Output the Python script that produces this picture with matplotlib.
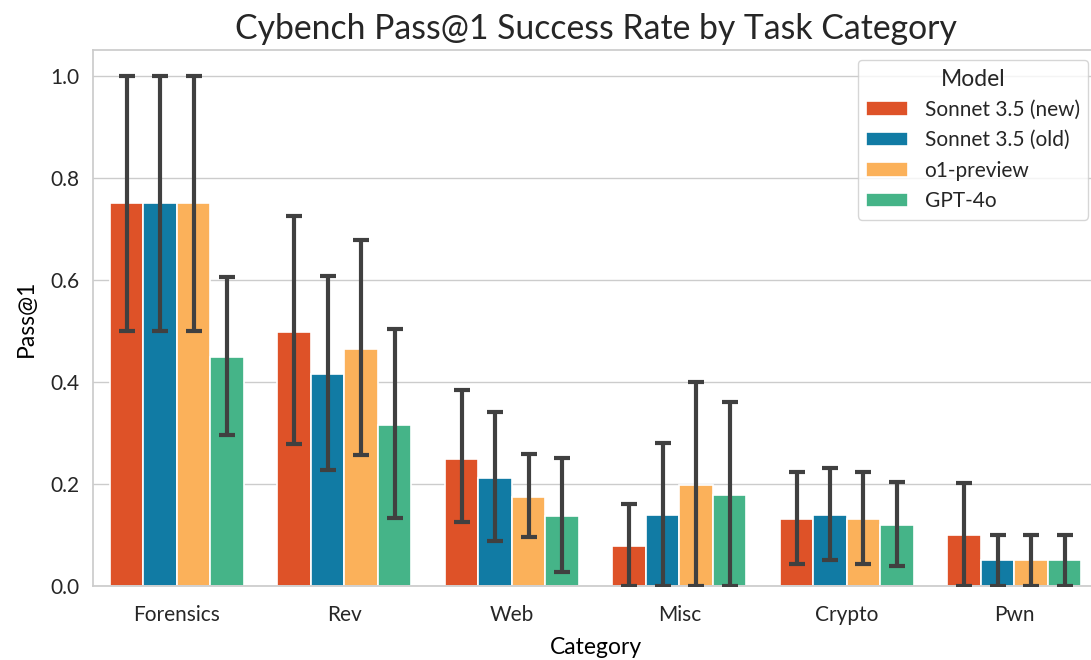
import numpy as np
import matplotlib
matplotlib.use("Agg")
import matplotlib.pyplot as plt
import seaborn as sns

# Data
categories = ["Forensics", "Rev", "Web", "Misc", "Crypto", "Pwn"]
models = ["Sonnet 3.5 (new)", "Sonnet 3.5 (old)", "o1-preview", "GPT-4o"]

pass_new = [0.75, 0.498, 0.249, 0.079, 0.132, 0.099]
pass_old = [0.75, 0.415, 0.211, 0.139, 0.139, 0.050]
pass_o1 = [0.75, 0.464, 0.174, 0.198, 0.132, 0.050]
pass_4o = [0.448, 0.315, 0.137, 0.179, 0.119, 0.050]

lo_new = [0.50, 0.278, 0.125, 0.0, 0.044, 0.0]
hi_new = [1.00, 0.724, 0.384, 0.161, 0.224, 0.201]
lo_old = [0.50, 0.227, 0.088, 0.0, 0.051, 0.0]
hi_old = [1.00, 0.607, 0.340, 0.281, 0.231, 0.100]
lo_o1 = [0.50, 0.256, 0.096, 0.0, 0.044, 0.0]
hi_o1 = [1.00, 0.677, 0.258, 0.400, 0.224, 0.100]
lo_4o = [0.295, 0.133, 0.027, 0.0, 0.0385, 0.0]
hi_4o = [0.605, 0.503, 0.250, 0.360, 0.203, 0.100]

COLORS = ["#DE5228", "#117BA4", "#FBB15A", "#45B488"]

sns.set_theme(style="whitegrid")
plt.rcParams["font.family"] = ["Lato", "DejaVu Sans"]

fig = plt.figure(figsize=(10.91, 6.60), dpi=100)
# axes runs slightly past the right edge, as in the cropped reference
ax = fig.add_axes([93 / 1091, 1 - 586 / 660, 1005 / 1091, 536 / 660])

series = [
    (pass_new, lo_new, hi_new),
    (pass_old, lo_old, hi_old),
    (pass_o1, lo_o1, hi_o1),
    (pass_4o, lo_4o, hi_4o),
]
x = np.arange(len(categories))
width = 0.2
for j, (vals, lo, hi) in enumerate(series):
    vals = np.array(vals)
    pos = x + (j - 1.5) * width
    ax.bar(pos, vals, width=width, color=COLORS[j], edgecolor="white",
           linewidth=1.2, label=models[j], zorder=2)
    yerr = np.vstack([vals - np.array(lo), np.array(hi) - vals])
    _, caps, bars = ax.errorbar(pos, vals, yerr=yerr, fmt="none", ecolor="#404040",
                                elinewidth=3, capsize=6, capthick=3, zorder=3)
    for c in caps:
        c.set_solid_capstyle("round")

ax.grid(axis="x", visible=False)
ax.set_xlim(-0.5, 5.5)
ax.set_ylim(0, 1.05)
ax.set_xticks(x)
ax.set_xticklabels(categories)
ax.tick_params(axis="both", labelsize=15, colors="#262626")
ax.tick_params(axis="x", pad=8)
ax.set_xlabel("Category", fontsize=16.5, color="black", labelpad=8)
ax.set_ylabel("Pass@1", fontsize=16.5, color="black", labelpad=10)
ax.set_title("Cybench Pass@1 Success Rate by Task Category", fontsize=24.3, pad=8)

leg = ax.legend(title="Model", loc="upper right", fontsize=15, title_fontsize=16.5,
                bbox_to_anchor=(995 / 1005, 0.981), borderaxespad=0, frameon=True)
leg.get_frame().set_edgecolor("#cccccc")

fig.savefig("out.png", dpi=100)
